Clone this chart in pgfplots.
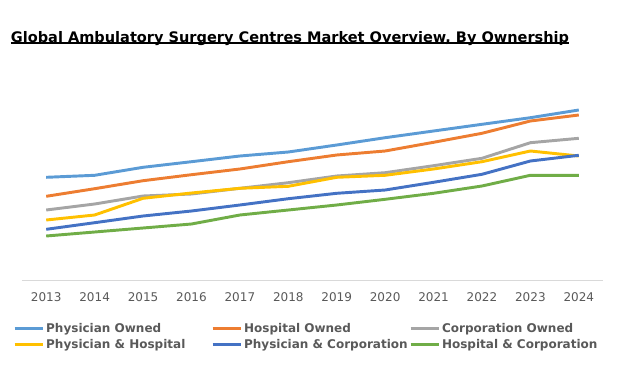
\documentclass[border=0pt]{standalone}
\usepackage{fontspec}
\setmainfont{DejaVu Sans}
\usepackage{pgfplots}
\pgfplotsset{compat=1.18}
\definecolor{c1}{HTML}{5B9BD5}
\definecolor{c2}{HTML}{ED7D31}
\definecolor{c3}{HTML}{A5A5A5}
\definecolor{c4}{HTML}{FFC000}
\definecolor{c5}{HTML}{4472C4}
\definecolor{c6}{HTML}{70AD47}
\definecolor{txt}{HTML}{595959}
\definecolor{grayline}{HTML}{D9D9D9}
\newcommand\ulx[1]{\setbox0\hbox{#1}\rlap{\rule[-1.5pt]{\wd0}{1.2pt}}\box0}
\begin{document}
\begin{tikzpicture}[x=1pt,y=1pt]
\path[use as bounding box] (0,0) rectangle (465,276.75);
\begin{axis}[
  at={(16.5pt,66.75pt)}, anchor=south west,
  scale only axis, width=435.75pt, height=172.5pt,
  xmin=-0.5, xmax=11.5, ymin=0, ymax=230,
  axis y line=none, axis x line*=bottom,
  x axis line style={draw=grayline, line width=0.75pt, -},
  xtick={0,1,2,3,4,5,6,7,8,9,10,11},
  xticklabels={2013,2014,2015,2016,2017,2018,2019,2020,2021,2022,2023,2024},
  major tick length=0pt,
  xticklabel style={font=\fontsize{9}{10}\selectfont, text=txt, inner sep=0pt, anchor=north, yshift=-9.5pt},
  title={\ulx{Global Ambulatory Surgery Centres Market Overview, By Ownership}},
  every axis title/.style={at={(axis description cs:0.4613,1)}, anchor=base, yshift=6pt, font=\bfseries\fontsize{10.9}{12}\selectfont, text=black},
  legend columns=3,
  legend style={at={(axis description cs:0,0)}, anchor=north west, xshift=-6.75pt, yshift=-32pt,
    draw=none, fill=none, inner sep=0pt, font=\bfseries\fontsize{9}{10}\selectfont, text=txt,
    nodes={inner sep=0pt, text height=7pt, text depth=2pt}, row sep=3pt,
    /tikz/every odd column/.append style={column sep=1.5pt}},
  legend image code/.code={\draw[#1] (0pt,0pt) -- (21pt,0pt);},
  every axis plot/.append style={line width=2.2pt, mark=none, line join=round},
]
\addplot[c1] coordinates {(0,102.7)(1,104.7)(2,112.7)(3,118.3)(4,124)(5,128)(6,135)(7,142.3)(8,149)(9,155.7)(10,162.3)(11,170)};
\addlegendentry{\makebox[123.75pt][l]{Physician Owned}}
\addplot[c2] coordinates {(0,83.7)(1,91.3)(2,99.3)(3,105.3)(4,111)(5,118.3)(6,125)(7,129)(8,137.7)(9,146.7)(10,159)(11,165)};
\addlegendentry{\makebox[123.75pt][l]{Hospital Owned}}
\addplot[c3] coordinates {(0,70)(1,76)(2,84)(3,86)(4,91.7)(5,97.3)(6,104)(7,107.3)(8,114.3)(9,121.7)(10,137.3)(11,141.7)};
\addlegendentry{\makebox[123.75pt][l]{Corporation Owned}}
\addplot[c4] coordinates {(0,60)(1,65)(2,81.7)(3,87)(4,91.7)(5,93.7)(6,102.7)(7,104.7)(8,111)(9,118.3)(10,129)(11,124)};
\addlegendentry{\makebox[123.75pt][l]{Physician \& Hospital}}
\addplot[c5] coordinates {(0,50.7)(1,57.3)(2,64)(3,69)(4,75)(5,81.3)(6,86.7)(7,90)(8,97.7)(9,105.7)(10,119)(11,124.7)};
\addlegendentry{\makebox[123.75pt][l]{Physician \& Corporation}}
\addplot[c6] coordinates {(0,44)(1,48)(2,52)(3,56)(4,65)(5,70)(6,75)(7,80.7)(8,86.7)(9,94)(10,104.7)(11,104.7)};
\addlegendentry{\makebox[123.75pt][l]{Hospital \& Corporation}}
\end{axis}
\end{tikzpicture}
\end{document}
